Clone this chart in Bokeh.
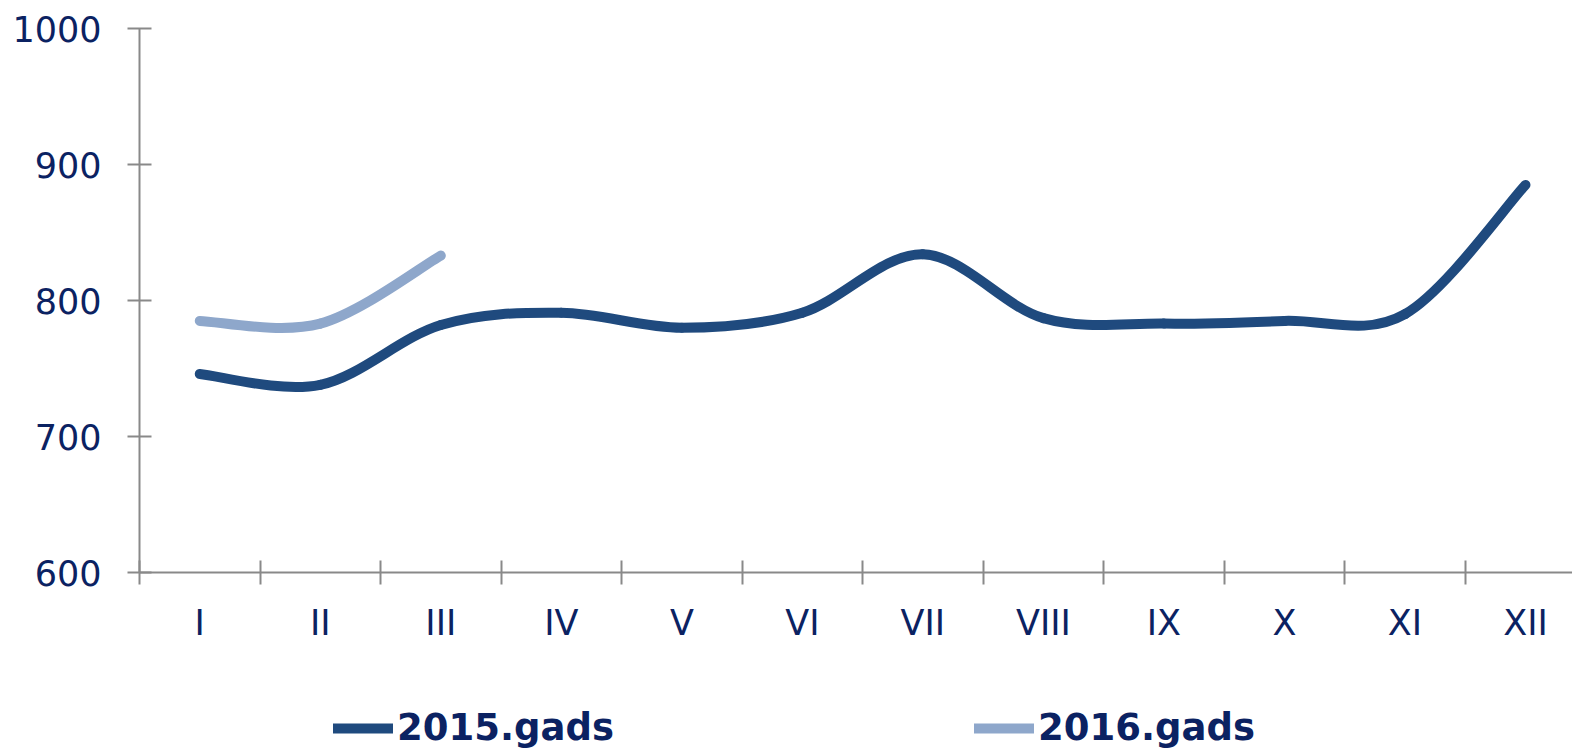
from bokeh.plotting import figure
from bokeh.models import FixedTicker, Legend, LegendItem, Range1d
from bokeh.layouts import column
from bokeh.embed import file_html
from bokeh.resources import INLINE

months = ["I", "II", "III", "IV", "V", "VI", "VII", "VIII", "IX", "X", "XI", "XII"]
values_2015 = [746, 738, 782, 791, 780, 791, 834, 787, 783, 785, 790, 885]
values_2016 = [785, 783, 833]
series_names = ["2015.gads", "2016.gads"]
y_ticks = [600, 700, 800, 900, 1000]

C2015 = "#1F4A7E"
C2016 = "#8EA7CB"
TXT = "#0B2262"
AX = "#898989"
FONT = "DejaVu Sans"

MAIN_H = 690
p = figure(width=1572, height=MAIN_H, output_backend="svg", toolbar_location=None,
           x_range=Range1d(0, 11.89), y_range=Range1d(600, 1000),
           min_border_left=139, min_border_right=0, min_border_top=28,
           min_border_bottom=MAIN_H - 28 - 544)
p.outline_line_color = None

xs = [i + 0.5 for i in range(len(months))]


def smooth(xv, yv):
    n = len(xv)
    x0, y0, x1, y1, cx0, cy0, cx1, cy1 = [], [], [], [], [], [], [], []
    for i in range(n - 1):
        pxm, pym = (xv[i - 1], yv[i - 1]) if i > 0 else (xv[i], yv[i])
        pxp, pyp = (xv[i + 2], yv[i + 2]) if i + 2 < n else (xv[i + 1], yv[i + 1])
        x0.append(xv[i]); y0.append(yv[i]); x1.append(xv[i + 1]); y1.append(yv[i + 1])
        cx0.append(xv[i] + (xv[i + 1] - pxm) / 6); cy0.append(yv[i] + (yv[i + 1] - pym) / 6)
        cx1.append(xv[i + 1] - (pxp - xv[i]) / 6); cy1.append(yv[i + 1] - (pyp - yv[i]) / 6)
    return dict(x0=x0, y0=y0, x1=x1, y1=y1, cx0=cx0, cy0=cy0, cx1=cx1, cy1=cy1)


LW = 10
p.bezier(line_color=C2015, line_width=LW, line_cap="round", **smooth(xs, values_2015))
p.bezier(line_color=C2016, line_width=LW, line_cap="round", **smooth(xs[:len(values_2016)], values_2016))

# axes
xa = p.xaxis[0]
xa.ticker = FixedTicker(ticks=xs, minor_ticks=list(range(0, 13)))
xa.major_label_overrides = {x: m for x, m in zip(xs, months)}
xa.major_tick_in = 0
xa.major_tick_out = 0
xa.minor_tick_in = 12
xa.minor_tick_out = 12
xa.minor_tick_line_color = AX
xa.minor_tick_line_width = 2
xa.axis_line_color = AX
xa.axis_line_width = 2
xa.major_label_text_font = FONT
xa.major_label_text_font_size = "35px"
xa.major_label_text_color = TXT
xa.major_label_standoff = 18

ya = p.yaxis[0]
ya.ticker = FixedTicker(ticks=y_ticks)
ya.major_tick_in = 12
ya.major_tick_out = 12
ya.minor_tick_line_color = None
ya.major_tick_line_color = AX
ya.major_tick_line_width = 2
ya.axis_line_color = AX
ya.axis_line_width = 2
ya.major_label_text_font = FONT
ya.major_label_text_font_size = "35px"
ya.major_label_text_color = TXT
ya.major_label_standoff = 26

p.xgrid.grid_line_color = None
p.ygrid.ticker = FixedTicker(ticks=[1000])
p.ygrid.grid_line_color = AX
p.ygrid.grid_line_width = 2

# legend strip (its frame is aligned with the main frame by the column layout)
lg = figure(width=1572, height=749 - MAIN_H, output_backend="svg", toolbar_location=None,
            x_axis_location=None, y_axis_location=None,
            x_range=Range1d(10, 11), y_range=Range1d(10, 11),
            min_border_left=0, min_border_right=0, min_border_top=0, min_border_bottom=0)
lg.outline_line_color = None
lg.grid.grid_line_color = None
# proxy renderers for the legend glyphs, placed outside the visible range
l1 = lg.line(x=[0, 1], y=[0, 0], line_color=C2015, line_width=10, line_cap="round")
l2 = lg.line(x=[0, 1], y=[0, 0], line_color=C2016, line_width=10, line_cap="round")

legend = Legend(items=[LegendItem(label=series_names[0], renderers=[l1]),
                       LegendItem(label=series_names[1], renderers=[l2])],
                orientation="horizontal", location=(194, 0),
                padding=0, margin=0, spacing=360, glyph_width=60, glyph_height=36,
                label_height=36, label_standoff=4,
                label_text_font=FONT, label_text_font_size="37px", label_text_font_style="bold",
                label_text_color=TXT, border_line_color=None, background_fill_alpha=0)
lg.add_layout(legend)

layout = column(p, lg, spacing=0)
open("out.html", "w").write(file_html(layout, INLINE))
